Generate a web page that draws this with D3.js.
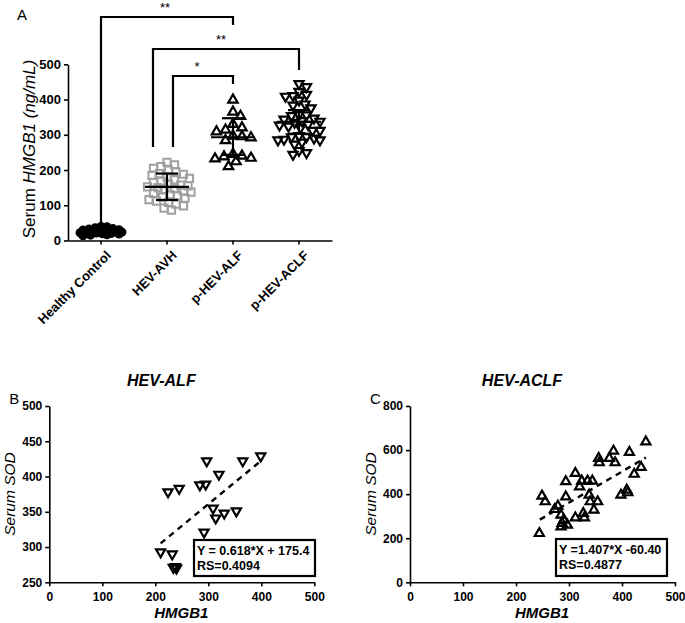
<!DOCTYPE html>
<html><head><meta charset="utf-8">
<script src="https://cdn.jsdelivr.net/npm/d3@7"></script>
<style>
body{margin:0;background:#fff;}
text{font-family:"Liberation Sans",Arial,sans-serif;}
</style></head>
<body><svg id="c" width="685" height="623"></svg>
<script>
// ---------- DATA ----------
const categories = ["Healthy Control","HEV-AVH","p-HEV-ALF","p-HEV-ACLF"];
const healthyControl = [40,39,36,34,33,31,30,29,28,27,26,25,24,23,22,21,20,19,18,16,15,13];
const hevAVH = [222,215,210,205,200,195,190,188,185,180,176,172,168,165,160,157,155,152,150,147,145,140,137,134,130,127,123,120,116,112,108,103,98,92,86];
const alfHMGB1 = [210,232,234,238,240,224,245,284,295,297,320,292,309,314,330,353,365,399];
const alfSOD   = [293,290,271,272,270,378,383,388,389,422,403,321,355,341,348,351,422,429];
const aclfHMGB1 = [244,249,255,273,279,285,290,287,285,297,294,294,312,312,320,324,329,327,335,344,338,340,347,354,356,357,376,384,387,398,409,411,414,423,436,445];
const aclfSOD   = [222,392,366,331,346,305,283,268,252,260,388,457,293,495,434,460,293,313,460,460,396,366,328,366,563,543,563,596,543,396,419,407,590,491,522,638];
const meanSD = [ // mean, lower, upper
  null,
  [152,115,190],
  [293,243,347],
  [337,303,370]
];
const yTicksA = [0,100,200,300,400,500];
const xTicksBC = [0,100,200,300,400,500];
const yTicksB = [250,300,350,400,450,500];
const yTicksC = [0,200,400,600,800];
const fitB = {slope:0.618, intercept:175.4, x0:210, x1:400, text:["Y = 0.618*X + 175.4","RS=0.4094"]};
const fitC = {slope:1.407, intercept:-60.40, x0:245, x1:445, text:["Y =1.407*X -60.40","RS=0.4877"]};

// ---------- DRAW ----------
const svg = d3.select("#c");
const F = "Liberation Sans, Arial, sans-serif";

function styleAxis(g, fs){
  g.selectAll("path,line").attr("stroke","#000").attr("stroke-width",1.6);
  g.selectAll("text").attr("font-size",fs).attr("font-weight","bold").attr("fill","#000").attr("font-family",F);
}

// Panel A
const xA = d3.scaleBand().domain(categories).range([68,332]);
const yA = d3.scaleLinear().domain([0,500]).range([240.5,64.3]);
const gA = svg.append("g");
gA.append("g").attr("transform","translate(68,0)")
  .call(d3.axisLeft(yA).tickValues(yTicksA).tickSize(4).tickSizeOuter(0).tickPadding(3))
  .call(g=>styleAxis(g,13));
const xa = gA.append("g").attr("transform","translate(0,240.5)")
  .call(d3.axisBottom(xA).tickSize(4).tickSizeOuter(0))
  .call(g=>styleAxis(g,13));
xa.selectAll("text").attr("text-anchor","end").attr("dy","0.3em")
  .attr("transform","translate(3,8) rotate(-45)");

svg.append("text").attr("x",17).attr("y",20).attr("font-size",15).text("A");
const yl = svg.append("text").attr("transform","translate(35,149) rotate(-90)")
  .attr("text-anchor","middle").attr("font-size",17);
yl.append("tspan").text("Serum ");
yl.append("tspan").attr("font-style","italic").text("HMGB1 (ng/mL)");

// beeswarm layout (deterministic, width-capped)
function swarm(vals, cx, yS, d, maxOff){
  const placed=[];
  const order = vals.map((v,i)=>i).sort((a,b)=>vals[b]-vals[a]);
  order.forEach(i=>{
    const y=yS(vals[i]);
    let best=null, bestD=-1;
    for(let k=0;;k++){
      const off = (k%2? 1:-1)*Math.ceil(k/2)*1.5;
      if(Math.abs(off)>maxOff) break;
      const x=cx+off;
      const md = placed.length? d3.min(placed,p=>Math.hypot(p.x-x,p.y-y)) : Infinity;
      if(md>=d){best=x;break;}
      if(md>bestD){bestD=md;best=x;}
    }
    placed.push({x:best,y});
  });
  return placed;
}
const groups = [
  {vals:healthyControl, d:6, w:21},
  {vals:hevAVH, d:7.2, w:24},
  {vals:alfHMGB1, d:8.5, w:24},
  {vals:aclfHMGB1, d:7.0, w:22}
];
groups.forEach((g,gi)=>{
  const cx = xA(categories[gi])+xA.bandwidth()/2;
  const pts = swarm(g.vals,cx,yA,g.d,g.w);
  const sel = gA.append("g").selectAll("path").data(pts).join("path")
    .attr("transform",p=>`translate(${p.x},${p.y})`+(gi===3?" rotate(180)":""));
  if(gi===0) sel.attr("d",d3.symbol(d3.symbolCircle,62)()).attr("fill","#000");
  if(gi===1) sel.attr("d",d3.symbol(d3.symbolSquare,52)()).attr("fill","none").attr("stroke","#a0a0a0").attr("stroke-width",2);
  if(gi>=2) sel.attr("d",d3.symbol(d3.symbolTriangle,gi===2?38:36)()).attr("fill","none").attr("stroke","#000").attr("stroke-width",2.2);
  const ms = meanSD[gi];
  if(ms){
    const l = gA.append("g").attr("stroke","#000").attr("stroke-width",2.2);
    l.append("line").attr("x1",cx-22).attr("x2",cx+22).attr("y1",yA(ms[0])).attr("y2",yA(ms[0]));
    l.append("line").attr("x1",cx).attr("x2",cx).attr("y1",yA(ms[1])).attr("y2",yA(ms[2]));
    [ms[1],ms[2]].forEach(v=>l.append("line").attr("x1",cx-11).attr("x2",cx+11).attr("y1",yA(v)).attr("y2",yA(v)));
  }
});

// significance brackets
const cxA = c=>xA(categories[c])+xA.bandwidth()/2;
const brackets = [
  {a:0,b:2,y:17,ya:227,yb:25,lab:"**",ax:0,ox:-2},
  {a:1,b:3,y:49,ya:147,yb:70,lab:"**",ax:-14,ox:-5},
  {a:1,b:2,y:76,ya:147,yb:84,lab:"*",ax:6,ox:-6}
];
brackets.forEach(b=>{
  const x1 = cxA(b.a)+b.ax, x2 = cxA(b.b);
  svg.append("path").attr("d",`M${x1},${b.ya}V${b.y}H${x2}V${b.yb}`)
    .attr("fill","none").attr("stroke","#000").attr("stroke-width",2.2);
  svg.append("text").attr("x",(x1+x2)/2+b.ox).attr("y",b.y-5).attr("text-anchor","middle")
    .attr("font-size",13).text(b.lab);
});

// Scatter panels
function scatter(o){
  const x = d3.scaleLinear().domain([0,500]).range([o.x0,o.x0+265]);
  const y = d3.scaleLinear().domain(o.ydom).range([582.3,406]);
  const g = svg.append("g");
  g.append("g").attr("transform",`translate(${o.x0},0)`)
    .call(d3.axisLeft(y).tickValues(o.yt).tickSize(4).tickSizeOuter(0).tickPadding(3)).call(a=>styleAxis(a,12));
  g.append("g").attr("transform","translate(0,582.3)")
    .call(d3.axisBottom(x).tickValues(xTicksBC).tickSize(4).tickSizeOuter(0).tickPadding(6)).call(a=>styleAxis(a,12));
  g.append("text").attr("x",o.x0-40).attr("y",404).attr("font-size",15).text(o.letter);
  g.append("text").attr("x",o.x0+112).attr("y",386).attr("text-anchor","middle")
    .attr("font-size",16).attr("font-weight","bold").attr("font-style","italic").text(o.title);
  g.append("text").attr("transform",`translate(${o.x0-34},494) rotate(-90)`).attr("text-anchor","middle")
    .attr("font-size",15.5).attr("font-style","italic").text("Serum SOD");
  g.append("text").attr("x",o.x0+132).attr("y",618).attr("text-anchor","middle")
    .attr("font-size",15).attr("font-style","italic").attr("font-weight","bold").text("HMGB1");
  const f=o.fit;
  g.append("line").attr("x1",x(f.x0)).attr("x2",x(f.x1))
    .attr("y1",y(f.slope*f.x0+f.intercept)).attr("y2",y(f.slope*f.x1+f.intercept))
    .attr("stroke","#000").attr("stroke-width",2.4).attr("stroke-dasharray","6,5");
  g.append("g").selectAll("path").data(o.xs).join("path")
    .attr("transform",(d,i)=>`translate(${x(d)},${y(o.ys[i])})`+(o.down?" rotate(180)":""))
    .attr("d",d3.symbol(d3.symbolTriangle,36)()).attr("fill","none").attr("stroke","#000").attr("stroke-width",2.2);
  const bx=o.box;
  g.append("rect").attr("x",bx[0]).attr("y",bx[1]).attr("width",bx[2]).attr("height",bx[3])
    .attr("fill","#fff").attr("stroke","#000").attr("stroke-width",2.2);
  f.text.forEach((t,i)=>g.append("text").attr("x",bx[0]+3).attr("y",bx[1]+15+i*15)
    .attr("font-size",12.5).attr("font-weight","bold").text(t));
}
scatter({x0:49.3,ydom:[250,500],yt:yTicksB,letter:"B",title:"HEV-ALF",xs:alfHMGB1,ys:alfSOD,down:true,fit:fitB,box:[194,540,121,36]});
scatter({x0:410,ydom:[0,800],yt:yTicksC,letter:"C",title:"HEV-ACLF",xs:aclfHMGB1,ys:aclfSOD,down:false,fit:fitC,box:[556,539,111,37]});
</script></body></html>
